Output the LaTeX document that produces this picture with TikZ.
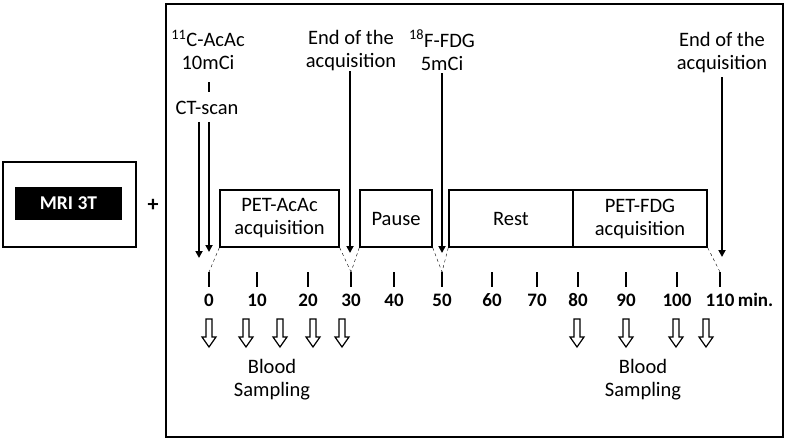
\documentclass[tikz,border=0pt]{standalone}
\usepackage{fontspec}
\setmainfont{Carlito}
\usetikzlibrary{arrows.meta, positioning}

\begin{document}
\begin{tikzpicture}[x=1pt, y=-1pt,
  font=\fontsize{20.5}{23}\selectfont,
  txt/.style={align=center, inner sep=0pt},
  phase/.style={draw, line width=1.5pt, minimum height=57pt, inner sep=0pt, align=center},
  num/.style={font=\fontsize{19}{20}\selectfont\bfseries, inner sep=1pt},
  tick/.style={line width=2pt},
  arr/.style={-{Triangle[length=7pt,width=7pt]}, line width=1.8pt},
  link/.style={dashed, thin},
  bsarrow/.pic={\draw[line width=1.2pt, line join=miter]
    (-3,0) -- (-3,18) -- (-7,18) -- (0,28) -- (7,18) -- (3,18) -- (3,0) -- cycle;}
]
\useasboundingbox (0,0) rectangle (787,441);

% MRI part
\node[draw, line width=1.5pt, minimum width=133pt, minimum height=85pt] (mribox) at (69.5,204.5) {};
\node[fill=black, text=white, font=\fontsize{19.5}{20}\selectfont\bfseries,
      minimum width=107pt, minimum height=33pt] (mri) at (68.5,203.5) {MRI 3T};
\node[font=\fontsize{22}{24}\selectfont\bfseries] (plus) at (153,205) {+};

% PET protocol frame
\draw[line width=1.5pt] (166,4) rectangle (783,437);

% phases
\node[phase, minimum width=119pt] (acac)  at (279.5,218.5) {PET-AcAc\\acquisition};
\node[phase, minimum width=72pt]  (pause) at (396,218.5)   {Pause};
\node[phase, minimum width=124pt] (rest)  at (511,218.5)   {Rest};
\node[phase, minimum width=134pt] (fdg)   at (640,218.5)   {PET-FDG\\acquisition};

% time axis
\foreach \x/\t in {209/0, 257/10, 308/20, 351/30, 394/40, 442/50,
                   492/60, 537/70, 578/80, 626/90, 677/100, 720/110} {
  \coordinate (t\t) at (\x,272);
  \draw[tick] (t\t) -- ++(0,15);
  \node[num] (l\t) at (\x,300) {\t};
}
\node[num, anchor=base west] (unit) at ([xshift=1pt]l110.base east) {min.};

\draw[link] (acac.south west) -- (t0);
\draw[link] (acac.south east) -- (t30);
\draw[link] (pause.south west) -- (t30);
\draw[link] (pause.south east) -- (t50);
\draw[link] (rest.south west) -- (t50);
\draw[link] (fdg.south east) -- (t110);

% events
\node[txt] (inj1) at (208,50) {\textsuperscript{11}C-AcAc\\10mCi};
\node[txt] (ct) at (207,108) {CT-scan};
\draw[line width=1.8pt, shorten <=12pt, shorten >=9pt] (inj1.south -| 209,0) -- (ct.north -| 209,0);
\coordinate (ctA) at (199,258);
\coordinate (ctB) at (209,252);
\draw[arr] (ct.south -| ctA) ++(0,7) -- (ctA);
\draw[arr] (ct.south -| ctB) ++(0,7) -- (ctB);

\node[txt] (end1) at (351,51) {End of the\\acquisition};
\coordinate (end1a) at (350,253);
\draw[arr] (end1.south -| end1a) -- (end1a);

\node[txt] (inj2) at (442,50) {\textsuperscript{18}F-FDG\\5mCi};
\coordinate (inj2a) at (442,253);
\draw[arr] (inj2.south -| inj2a) ++(0,3) -- (inj2a);

\node[txt] (end2) at (722,53) {End of the\\acquisition};
\coordinate (end2a) at (722,257);
\draw[arr] (end2.south -| end2a) ++(0,4) -- (end2a);

% blood sampling
\foreach \x [count=\i] in {209, 246, 280, 313, 342, 577, 626, 676, 706}
  \pic (bs\i) at (\x,319) {bsarrow};
\node[txt] (blood1) at (272,380) {Blood\\Sampling};
\node[txt] (blood2) at (643,380) {Blood\\Sampling};
\end{tikzpicture}
\end{document}
